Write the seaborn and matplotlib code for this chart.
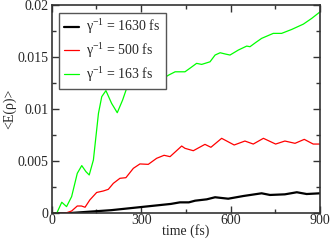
import matplotlib
matplotlib.use("Agg")
import matplotlib.pyplot as plt
import seaborn as sns
import pandas as pd
from matplotlib.ticker import MultipleLocator

t_black = [0,50,100,150,200,250,300,350,400,430,460,481,520,548,592,643,704,732,782,822,855,900]
y_black = [0,0,0.0001,0.0002,0.0003,0.00045,0.0006,0.00075,0.0009,0.00105,0.00105,0.00121,
           0.00134,0.00154,0.0014,0.00166,0.00192,0.00176,0.00182,0.00202,0.00185,0.00192]

t_red = [0,45,67,86,100,112,128,151,173,190,207,229,249,274,296,324,352,377,397,436,
         447,475,514,534,570,612,648,676,710,751,782,816,847,877,900]
y_red = [0,0,0.00022,0.0007,0.0007,0.00058,0.00128,0.002,0.00214,0.0023,
         0.00288,0.00336,0.00342,0.00432,0.00474,0.0047,0.00528,0.00557,0.00544,0.00646,
         0.00624,0.00601,0.00662,0.00634,0.0072,0.00656,0.00694,0.00665,0.0072,0.00665,
         0.00694,0.00672,0.0071,0.00665,0.00665]

t_green = [0,17,34,50,67,86,101,115,126,140,157,168,182,201,220,238,263,283,302,319,
           335,354,374,394,414,447,467,486,503,531,548,565,582,598,626,654,665,684,704,743,
           771,805,844,872,900]
y_green = [0,0,0.00106,0.00064,0.0016,0.00384,0.00458,0.004,0.00368,0.00512,
           0.0096,0.0112,0.01178,0.01056,0.00966,0.01088,0.01296,0.01264,0.01215,0.01286,
           0.01328,0.01315,0.01296,0.0133,0.01359,0.01359,0.0140,0.0144,0.0143,0.01455,
           0.0152,0.01542,0.0153,0.0152,0.01568,0.01606,0.016,0.0164,0.0168,0.01728,
           0.01728,0.01766,0.01817,0.01872,0.01935]

x_ticks = [0, 300, 600, 900]
x_ticklabels = ["0", "300", "600", "900"]
y_ticks = [0, 0.005, 0.01, 0.015, 0.02]
y_ticklabels = ["0", "0.005", "0.01", "0.015", "0.02"]

labels = [r"γ$^{-1}$ = 1630 fs", r"γ$^{-1}$ = 500 fs", r"γ$^{-1}$ = 163 fs"]
colors = ["#000000", "#ff0000", "#00ff00"]
widths = [1.6, 0.9, 0.9]

sns.set_style("ticks")
plt.rcParams["font.family"] = ["Liberation Serif", "DejaVu Serif"]
plt.rcParams["mathtext.fontset"] = "custom"
plt.rcParams["mathtext.rm"] = "Liberation Serif"
plt.rcParams["mathtext.it"] = "Liberation Serif"

frames = []
for t, y, lab in zip([t_black, t_red, t_green], [y_black, y_red, y_green], labels):
    frames.append(pd.DataFrame({"t": t, "y": y, "series": lab}))
df = pd.concat(frames, ignore_index=True)

fig = plt.figure(figsize=(3.31, 2.41), dpi=100)
ax = fig.add_axes([0.156, 0.115, 0.811, 0.864])

for lab, c, w in zip(labels, colors, widths):
    sns.lineplot(data=df[df.series == lab], x="t", y="y", color=c, linewidth=w,
                 label=lab, ax=ax, estimator=None, sort=True)

ax.set_xlim(0, 900)
ax.set_ylim(0, 0.02)
ax.set_xticks(x_ticks)
ax.set_xticklabels(x_ticklabels)
ax.set_yticks(y_ticks)
ax.set_yticklabels(y_ticklabels)
ax.xaxis.set_minor_locator(MultipleLocator(150))
ax.yaxis.set_minor_locator(MultipleLocator(0.0025))
ax.tick_params(which="both", direction="in", top=True, right=True, labelsize=10,
               color="#333333")
ax.tick_params(axis="x", pad=0.5)
ax.tick_params(axis="y", pad=2)
ax.tick_params(which="major", length=5, width=1)
ax.tick_params(which="minor", length=3, width=1)
for s in ax.spines.values():
    s.set_linewidth(1.2)
    s.set_color("#333333")

ax.set_xlabel("time (fs)", fontsize=10, labelpad=-2)
ax.set_ylabel("<E(ρ)>", fontsize=10, labelpad=1)

leg = ax.legend(loc="upper left", fontsize=10, frameon=True, fancybox=False,
                handlelength=1.1, handletextpad=0.5, labelspacing=0.35,
                borderpad=0.35, borderaxespad=0.55)
leg.get_frame().set_edgecolor("#555555")
leg.get_frame().set_linewidth(1.0)
leg.get_frame().set_alpha(1)

fig.savefig("out.png", dpi=100)
